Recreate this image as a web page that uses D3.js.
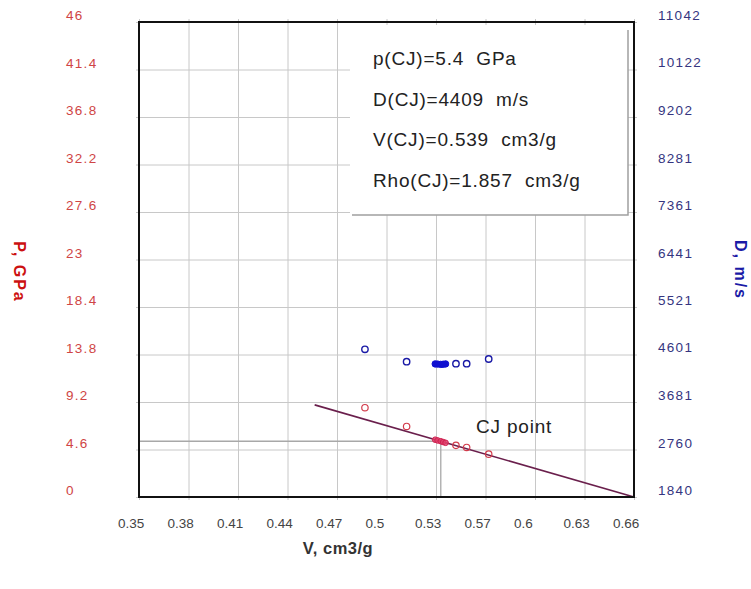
<!DOCTYPE html>
<html>
<head>
<meta charset="utf-8">
<script src="https://cdn.jsdelivr.net/npm/d3@7"></script>
<style>
  body { margin: 0; background: #fff; }
  svg { display: block; font-family: "Liberation Sans", Arial, sans-serif; }
  text { white-space: pre; }
</style>
</head>
<body>
<div id="chart"></div>
<script>
// Axis ticks as printed on the chart
const vTicks = [0.35, 0.381, 0.412, 0.443, 0.474, 0.505, 0.536, 0.567, 0.598, 0.629, 0.66];
const vTickLabels = ["0.35", "0.38", "0.41", "0.44", "0.47", "0.5", "0.53", "0.57", "0.6", "0.63", "0.66"];
const pTicks = [0, 4.6, 9.2, 13.8, 18.4, 23, 27.6, 32.2, 36.8, 41.4, 46];
const dTicks = [1840, 2760, 3681, 4601, 5521, 6441, 7361, 8281, 9202, 10122, 11042];

// Open markers (pressure in red, detonation velocity in blue)
const vOpen = [0.4915, 0.5176, 0.5485, 0.5552, 0.569];
const pOpen = [8.65, 6.83, 5.0, 4.8, 4.15];
const dOpen = [4701, 4461, 4422, 4422, 4513];

// Filled markers crowded round the CJ point
const vFilled = [0.5355, 0.537, 0.539, 0.5405, 0.542];
const pFilled = [5.55, 5.48, 5.4, 5.32, 5.25];
const dFilled = [4418, 4415, 4409, 4412, 4418];

// Rayleigh line end points
const vLine = [0.46, 0.66];
const pLine = [8.92, 0];

// CJ state
const vCJ = 0.539, pCJ = 5.4;
const legendLines = ["p(CJ)=5.4  GPa", "D(CJ)=4409  m/s", "V(CJ)=0.539  cm3/g", "Rho(CJ)=1.857  cm3/g"];

const W = 751, H = 589;
const margin = { top: 22, right: 117, bottom: 92, left: 139 };
const width = W - margin.left - margin.right,
  height = H - margin.top - margin.bottom;

const svg = d3.select("#chart").append("svg")
  .attr("width", W)
  .attr("height", H);

const x = d3.scaleLinear().domain([0.35, 0.66]).range([margin.left, margin.left + width]);
const yP = d3.scaleLinear().domain([0, 46]).range([margin.top + height, margin.top]);
const yD = d3.scaleLinear().domain([1840, 11042]).range([margin.top + height, margin.top]);

// Grid, drawn with axes so the lines come from the scales
svg.append("g")
  .attr("transform", `translate(0, ${margin.top + height + 3})`)
  .call(d3.axisBottom(x).tickValues(vTicks).tickSize(-(height + 6)).tickFormat(""))
  .call(g => g.select(".domain").remove())
  .call(g => g.selectAll("line").attr("stroke", "#c8c8c8"));

svg.append("g")
  .attr("transform", `translate(${margin.left - 3}, 0)`)
  .call(d3.axisLeft(yP).tickValues(pTicks).tickSize(-(width + 6)).tickFormat(""))
  .call(g => g.select(".domain").remove())
  .call(g => g.selectAll("line").attr("stroke", "#c8c8c8"));

// Left tick labels (P), left aligned and sitting above their grid line
svg.append("g")
  .selectAll("text")
  .data(pTicks)
  .join("text")
  .attr("x", 66)
  .attr("y", d => yP(d) - 2)
  .attr("fill", "#cf4545")
  .attr("font-size", 13.5)
  .attr("letter-spacing", 1.3)
  .text(d => d);

// Right tick labels (D)
svg.append("g")
  .selectAll("text")
  .data(dTicks)
  .join("text")
  .attr("x", 658)
  .attr("y", d => yD(d) - 2)
  .attr("fill", "#35357f")
  .attr("font-size", 13.5)
  .attr("letter-spacing", 1.3)
  .text(d => d);

// Bottom tick labels (V)
svg.append("g")
  .selectAll("text")
  .data(vTicks)
  .join("text")
  .attr("x", d => x(d) - 21)
  .attr("y", 528)
  .attr("fill", "#444")
  .attr("font-size", 13.5)
  .text((d, i) => vTickLabels[i]);

// Legend box over the grid
const box = svg.append("g");
box.append("rect")
  .attr("x", 350).attr("y", 25)
  .attr("width", 278).attr("height", 190)
  .attr("fill", "#fff");
box.append("path")
  .attr("d", "M628,30V215H352")
  .attr("fill", "none")
  .attr("stroke", "#a0a0a0")
  .attr("stroke-width", 1.5);
box.selectAll("text")
  .data(legendLines)
  .join("text")
  .attr("x", 373)
  .attr("y", (d, i) => 65 + i * 40.5)
  .attr("fill", "#222")
  .attr("font-size", 19)
  .attr("letter-spacing", 0.8)
  .text(d => d);

// CJ guide lines
svg.append("path")
  .attr("d", `M${x(0.35)},${yP(pCJ)}H${x(vCJ)}V${yP(0)}`)
  .attr("fill", "none")
  .attr("stroke", "#a8a8a8")
  .attr("stroke-width", 1.3);

// Rayleigh line
const line = d3.line()
  .x((d, i) => x(vLine[i]))
  .y(d => yP(d));
svg.append("path")
  .attr("d", line(pLine))
  .attr("fill", "none")
  .attr("stroke", "#6a1f4c")
  .attr("stroke-width", 1.6);

// Markers
svg.append("g").selectAll("circle")
  .data(vOpen)
  .join("circle")
  .attr("cx", d => x(d))
  .attr("cy", (d, i) => yD(dOpen[i]))
  .attr("r", 3.2)
  .attr("fill", "#fff")
  .attr("stroke", "#1a1aa6")
  .attr("stroke-width", 1.4);

svg.append("g").selectAll("circle")
  .data(vOpen)
  .join("circle")
  .attr("cx", d => x(d))
  .attr("cy", (d, i) => yP(pOpen[i]))
  .attr("r", 3.2)
  .attr("fill", "none")
  .attr("stroke", "#d23a4a")
  .attr("stroke-width", 1.2);

svg.append("g").selectAll("circle")
  .data(vFilled)
  .join("circle")
  .attr("cx", d => x(d))
  .attr("cy", (d, i) => yD(dFilled[i]))
  .attr("r", 3.2)
  .attr("fill", "#1010d0")
  .attr("stroke", "#1010d0");

svg.append("g").selectAll("circle")
  .data(vFilled)
  .join("circle")
  .attr("cx", d => x(d))
  .attr("cy", (d, i) => yP(pFilled[i]))
  .attr("r", 2.8)
  .attr("fill", "#e0406a")
  .attr("fill-opacity", 0.8)
  .attr("stroke", "#d02050");

// CJ point caption
svg.append("text")
  .attr("x", 476)
  .attr("y", 433)
  .attr("fill", "#222")
  .attr("font-size", 19)
  .attr("letter-spacing", 0.8)
  .text("CJ point");

// Plot frame
svg.append("rect")
  .attr("x", margin.left).attr("y", margin.top)
  .attr("width", width).attr("height", height)
  .attr("fill", "none")
  .attr("stroke", "#111")
  .attr("stroke-width", 2);

// Axis titles
svg.append("text")
  .attr("transform", "translate(14, 272) rotate(90)")
  .attr("text-anchor", "middle")
  .attr("fill", "#cc1111")
  .attr("font-weight", "bold")
  .attr("font-size", 16)
  .attr("letter-spacing", 2)
  .text("P, GPa");

svg.append("text")
  .attr("transform", "translate(735, 270) rotate(90)")
  .attr("text-anchor", "middle")
  .attr("fill", "#1a1aa6")
  .attr("font-weight", "bold")
  .attr("font-size", 16)
  .attr("letter-spacing", 2)
  .text("D, m/s");

svg.append("text")
  .attr("x", 338)
  .attr("y", 554)
  .attr("text-anchor", "middle")
  .attr("fill", "#333")
  .attr("font-weight", "bold")
  .attr("font-size", 16.5)
  .attr("letter-spacing", 0.5)
  .text("V, cm3/g");
</script>
</body>
</html>
